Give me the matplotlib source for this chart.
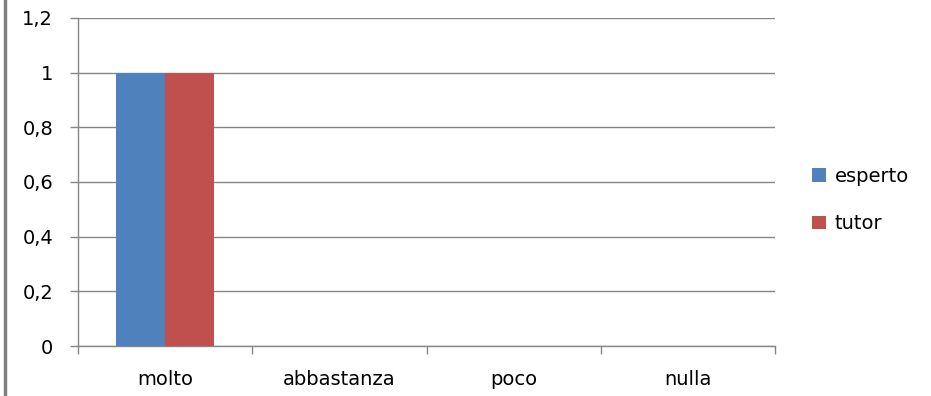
import matplotlib
matplotlib.use('Agg')
import matplotlib.pyplot as plt
import numpy as np
from matplotlib.lines import Line2D
from matplotlib import ticker

categories = ['molto', 'abbastanza', 'poco', 'nulla']
esperto = [1, 0, 0, 0]
tutor = [1, 0, 0, 0]
y_ticks = [0, 0.2, 0.4, 0.6, 0.8, 1.0, 1.2]

plt.rcParams['font.family'] = ['DejaVu Sans']

grid_col = '#868686'
fig = plt.figure(figsize=(9.31, 3.96), dpi=100)
ax = fig.add_axes([78/931, 1-346/396, (775-78)/931, (346-18)/396])

x = np.arange(len(categories))
w = 0.28
ax.bar(x - w/2, esperto, width=w, color='#4f81bd', label='esperto', zorder=3)
ax.bar(x + w/2, tutor, width=w, color='#c0504d', label='tutor', zorder=3)

ax.set_xlim(-0.5, len(categories) - 0.5)
ax.set_ylim(0, 1.2)
ax.set_yticks(y_ticks)
ax.yaxis.set_major_formatter(ticker.FuncFormatter(
    lambda v, p: ('%g' % round(v, 1)).replace('.', ',')))
ax.set_xticks(x)
ax.set_xticklabels(categories)
ax.xaxis.set_minor_locator(ticker.FixedLocator(np.arange(-0.5, len(categories), 1)))
ax.tick_params(axis='x', which='major', length=0, pad=17, labelsize=14)
ax.tick_params(axis='x', which='minor', length=6, width=1, color=grid_col, direction='out')
ax.tick_params(axis='y', length=6, width=1, color=grid_col, pad=12, labelsize=14)

ax.grid(axis='y', color=grid_col, linewidth=1)
ax.set_axisbelow(True)
for s in ['top', 'right']:
    ax.spines[s].set_visible(False)
for s in ['left', 'bottom']:
    ax.spines[s].set_color(grid_col)
    ax.spines[s].set_linewidth(1)

ax.legend(loc='center left', bbox_to_anchor=(1.028, 0.445), frameon=False,
          fontsize=14, handlelength=0.7, handleheight=0.7, handletextpad=0.45,
          labelspacing=1.45)

fig.add_artist(Line2D([4.5/931, 4.5/931], [0, 1], color='#808080', linewidth=2.5,
                      transform=fig.transFigure))

fig.savefig('out.png', dpi=100)
